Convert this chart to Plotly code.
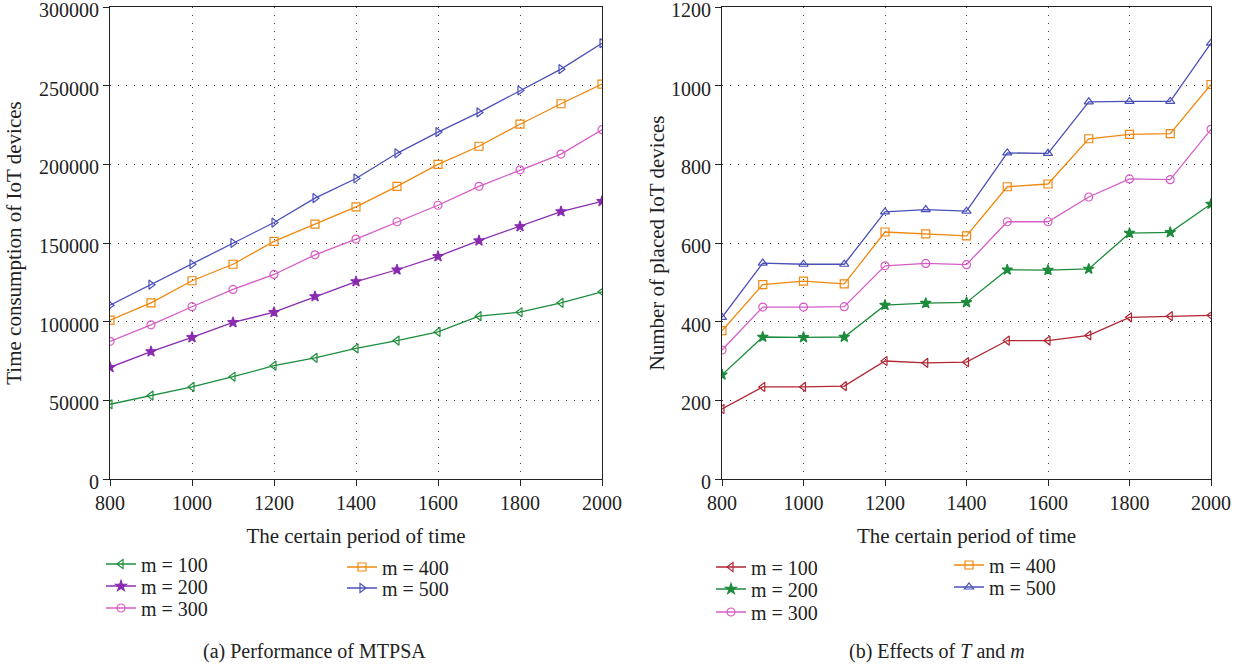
import plotly.graph_objects as go

periods = [800, 900, 1000, 1100, 1200, 1300, 1400, 1500, 1600, 1700, 1800, 1900, 2000]
series_names = ["m = 100", "m = 200", "m = 300", "m = 400", "m = 500"]

# (a) Time consumption of IoT devices
time_m100 = [47500, 53000, 58500, 65000, 72000, 77000, 83000, 88000, 93500, 103500, 106000, 112000, 119000]
time_m200 = [71000, 81000, 90000, 99500, 106000, 116000, 125500, 133000, 141500, 151500, 160500, 170000, 176500]
time_m300 = [87500, 98000, 109500, 120500, 130000, 142500, 152500, 163500, 174000, 186000, 196500, 206500, 222000]
time_m400 = [101000, 112000, 126000, 136500, 151000, 162000, 173000, 186000, 200000, 211500, 225500, 238500, 251000]
time_m500 = [110500, 123500, 136500, 150000, 163000, 178500, 191000, 207000, 220500, 233000, 247000, 260500, 277000]

# (b) Number of placed IoT devices
placed_m100 = [178, 234, 234, 236, 300, 295, 297, 352, 352, 365, 411, 414, 416]
placed_m200 = [265, 361, 360, 361, 442, 447, 449, 532, 531, 534, 625, 627, 699]
placed_m300 = [328, 437, 437, 438, 542, 548, 545, 654, 654, 717, 763, 761, 889]
placed_m400 = [377, 494, 503, 496, 628, 623, 618, 743, 750, 865, 876, 878, 1003]
placed_m500 = [411, 549, 546, 546, 679, 685, 681, 829, 828, 959, 960, 960, 1108]

FONT = "Liberation Serif"
W, H = 1242, 666

left_styles = [
    ("#1e8c3c", "triangle-left-open"),
    ("#8a2bb0", "star"),
    ("#d65cc8", "circle-open"),
    ("#f0880f", "square-open"),
    ("#4a4fb8", "triangle-right-open"),
]
right_styles = [
    ("#b22532", "triangle-left-open"),
    ("#1e8c3c", "star"),
    ("#d65cc8", "circle-open"),
    ("#f0880f", "square-open"),
    ("#4a4fb8", "triangle-up-open"),
]

# legend entry anchor positions (pixels: left, vertical centre)
left_leg_pos = [(101, 564), (101, 586), (101, 608), (342, 567), (342, 588)]
right_leg_pos = [(711, 567), (711, 589), (711, 612), (949, 565), (949, 587)]

fig = go.Figure()

left_data = [time_m100, time_m200, time_m300, time_m400, time_m500]
right_data = [placed_m100, placed_m200, placed_m300, placed_m400, placed_m500]

legend_layout = {}
legend_common = dict(
    font=dict(family=FONT, size=20, color="#222"),
    bgcolor="rgba(0,0,0,0)", itemwidth=30,
    xanchor="left", yanchor="middle",
)

k = 0
for side, data, styles, positions, xa, ya in [
    ("L", left_data, left_styles, left_leg_pos, "x", "y"),
    ("R", right_data, right_styles, right_leg_pos, "x2", "y2"),
]:
    for i, (vals, (col, sym)) in enumerate(zip(data, styles)):
        k += 1
        lname = "legend" if k == 1 else f"legend{k}"
        fig.add_trace(go.Scatter(
            x=periods, y=vals, mode="lines+markers", name=series_names[i],
            line=dict(color=col, width=1.3),
            marker=dict(symbol=sym, size=8, color=col,
                        line=dict(color=col, width=1.2)),
            xaxis=xa, yaxis=ya, legend=lname,
        ))
        px, py = positions[i]
        legend_layout[lname] = dict(x=px / W, y=1 - py / H, **legend_common)

axis_common = dict(
    showline=True, linecolor="#222", linewidth=1.2, mirror=True,
    ticks="outside", ticklen=6, tickcolor="#222",
    showgrid=True, gridcolor="#444", gridwidth=1, griddash="1px,7px",
    zeroline=False,
    automargin=False, ticklabeloverflow="allow",
)
tick_font = dict(family=FONT, size=20, color="#222")

title_font = dict(family=FONT, size=21, color="#222")
x_title = dict(text="The certain period of time", font=title_font)

PT, PB = 7, 479

fig.update_layout(
    width=W, height=H,
    margin=dict(l=0, r=0, t=0, b=0, autoexpand=False),
    paper_bgcolor="white", plot_bgcolor="white",
    font=dict(family=FONT, color="#222"),
    xaxis=dict(domain=[110 / W, 602 / W], range=[800, 2000], dtick=200,
               title=x_title, anchor="y", tickfont=tick_font, **axis_common),
    yaxis=dict(domain=[1 - PB / H, 1 - PT / H], range=[0, 300000], dtick=50000,
               tickformat="d", anchor="x", tickfont=tick_font, ticklabelshift=3,
               title=dict(text="Time consumption of IoT devices", font=title_font, standoff=11),
               **axis_common),
    xaxis2=dict(domain=[722 / W, 1211 / W], range=[800, 2000], dtick=200,
                title=x_title, anchor="y2", tickfont=tick_font, **axis_common),
    yaxis2=dict(domain=[1 - PB / H, 1 - PT / H], range=[0, 1200], dtick=200,
                tickformat="d", anchor="x2", tickfont=tick_font, ticklabelshift=3,
                title=dict(text="Number of placed IoT devices", font=title_font, standoff=0),
                **axis_common),
    annotations=[
        dict(text="(a) Performance of MTPSA", x=314 / W, y=1 - 651 / H, xref="paper", yref="paper",
             showarrow=False, xanchor="center", yanchor="middle",
             font=dict(family=FONT, size=20, color="#222")),
        dict(text="(b) Effects of <i>T</i> and <i>m</i>", x=937 / W, y=1 - 651 / H, xref="paper", yref="paper",
             showarrow=False, xanchor="center", yanchor="middle",
             font=dict(family=FONT, size=20, color="#222")),
    ],
    showlegend=True,
    **legend_layout,
)

fig.write_html("out.html", config={"displayModeBar": False},
               post_script="document.body.style.margin='0px';")
